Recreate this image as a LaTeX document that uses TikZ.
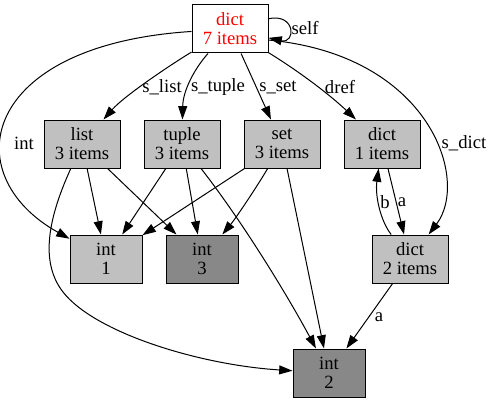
\documentclass[tikz,border=0pt]{standalone}
\usepackage{fontspec}
\setmainfont{Liberation Serif}
\usetikzlibrary{arrows.meta}

\definecolor{lightobj}{HTML}{C0C0C0}
\definecolor{darkobj}{HTML}{888888}
\tikzset{
  obj/.style={draw,line width=0.75pt,fill=lightobj,minimum width=57pt,minimum height=36pt,
    inner sep=0pt,align=center,font=\fontsize{14}{14.25}\selectfont},
  leaf/.style={obj,minimum width=54pt},
  lbl/.style={inner sep=0pt,font=\fontsize{14}{14}\selectfont},
}

\begin{document}
\begin{tikzpicture}[x=0.75pt,y=-0.75pt,line width=0.75pt,>={Triangle[length=10pt,width=6.7pt]}]
  \useasboundingbox (0,0) rectangle (492,403);
  % objetos
  \node[obj,fill=white,text=red] (root) at (230,29) {dict\\7 items};
  \node[obj] (lst) at (82,144) {list\\3 items};
  \node[obj] (tpl) at (182,144) {tuple\\3 items};
  \node[obj] (st) at (282,144) {set\\3 items};
  \node[obj] (dictone) at (382,144) {dict\\1 items};
  \node[obj] (dicttwo) at (410,259) {dict\\2 items};
  \node[leaf] (intone) at (106,259) {int\\1};
  \node[leaf,fill=darkobj] (intthree) at (202,259) {int\\3};
  \node[leaf,fill=darkobj] (inttwo) at (329,373) {int\\2};
  % referencias de dict
  \draw[->] (root.15) .. controls (296,13) and (296,44) .. (root.-13);
  \node[lbl] (lself) at (305,28) {self};
  \draw[->] (root) .. controls (175,62) and (125,95) .. (lst);
  \node[lbl] (lslist) at (162,87) {s\_list};
  \draw[->] (root) .. controls (195,68) and (183,90) .. (tpl);
  \node[lbl] (lstuple) at (218,87) {s\_tuple};
  \draw[->] (root) -- (st);
  \node[lbl] (lsset) at (278,87) {s\_set};
  \draw[->] (root) .. controls (300,72) and (330,95) .. (dictone);
  \node[lbl] (ldref) at (340,87) {dref};
  \draw[->] (root) .. controls (-20,45) and (-45,175) .. (intone);
  \node[lbl] (lint) at (24,143) {int};
  \draw[->] (root.-16) .. controls (430,55) and (470,180) .. (dicttwo);
  \node[lbl] (lsdict) at (464,143) {s\_dict};
  % contenedores
  \draw[->] (lst) -- (intone);
  \draw[->] (lst) -- (intthree);
  \draw[->] (lst) .. controls (45,225) and (42,265) .. (63,292)
    .. controls (95,333) and (200,365) .. (inttwo);
  \draw[->] (tpl) -- (intone);
  \draw[->] (tpl) -- (intthree);
  \draw[->] (tpl) .. controls (245,225) and (290,300) .. (inttwo);
  \draw[->] (st) -- (intone);
  \draw[->] (st) .. controls (258,185) and (236,218) .. (intthree);
  \draw[->] (st) -- (inttwo);
  % dicts anidados
  \draw[->] (dictone) -- (dicttwo);
  \node[lbl] (la) at (402,202) {a};
  \draw[->] (dicttwo) .. controls (380,220) and (375,195) .. (dictone);
  \node[lbl] (lb) at (385,202) {b};
  \draw[->] (dicttwo) -- (inttwo);
  \node[lbl] (laa) at (379,317) {a};
\end{tikzpicture}
\end{document}
